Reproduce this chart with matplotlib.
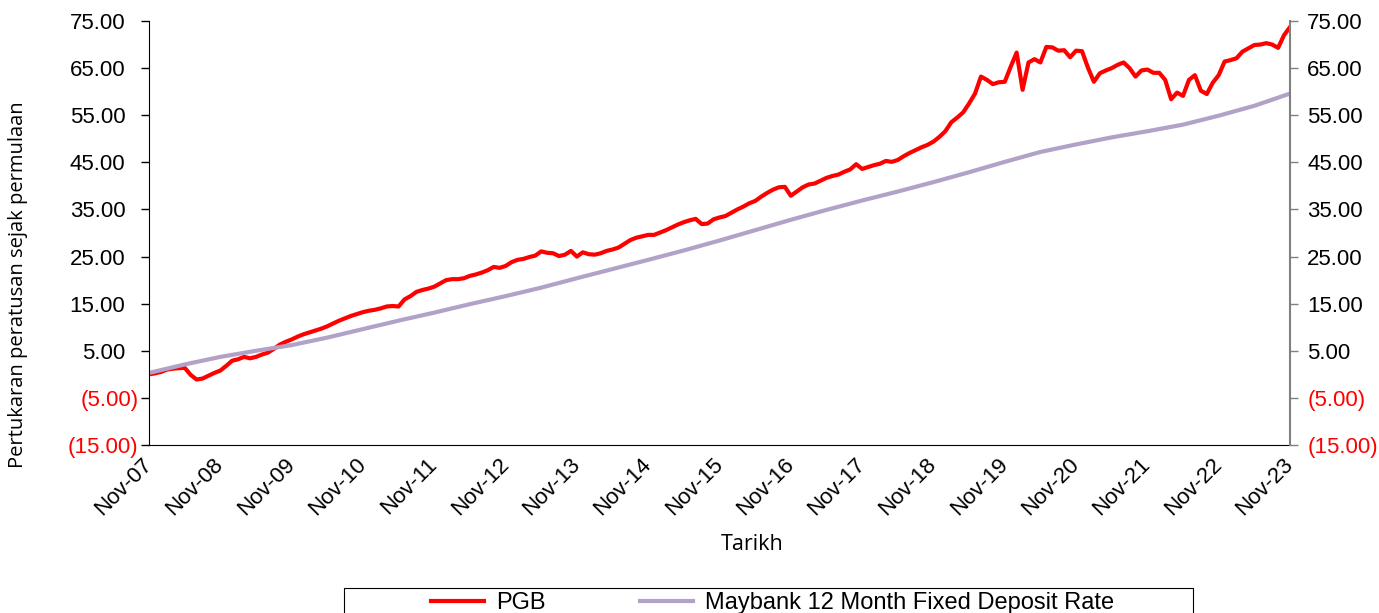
import numpy as np
import matplotlib.pyplot as plt
from matplotlib.patches import Rectangle

# x-axis labels, one per year (monthly data starting Nov-07)
year_labels = ["Nov-07", "Nov-08", "Nov-09", "Nov-10", "Nov-11", "Nov-12", "Nov-13",
               "Nov-14", "Nov-15", "Nov-16", "Nov-17", "Nov-18", "Nov-19", "Nov-20",
               "Nov-21", "Nov-22", "Nov-23"]

# PGB percentage change since launch, monthly
pgb = [0.0, 0.2, 0.5, 1.0, 1.2, 1.3, 1.4, -0.1, -1.1, -0.9, -0.3, 0.3,
       0.8, 1.8, 2.9, 3.2, 3.7, 3.4, 3.7, 4.2, 4.6, 5.4, 6.3, 6.9,
       7.4, 8.0, 8.5, 8.9, 9.3, 9.7, 10.2, 10.8, 11.4, 11.9, 12.4, 12.8,
       13.2, 13.5, 13.7, 14.0, 14.4, 14.5, 14.4, 15.9, 16.6, 17.5, 17.9, 18.2,
       18.6, 19.3, 20.0, 20.2, 20.2, 20.4, 20.9, 21.2, 21.6, 22.1, 22.8, 22.6,
       23.0, 23.8, 24.3, 24.5, 24.9, 25.2, 26.1, 25.8, 25.7, 25.1, 25.4, 26.2,
       25.0, 25.9, 25.5, 25.4, 25.7, 26.2, 26.5, 26.9, 27.7, 28.5, 29.0, 29.3,
       29.6, 29.6, 30.1, 30.6, 31.2, 31.8, 32.3, 32.7, 33.0, 31.9, 32.0, 32.9,
       33.3, 33.6, 34.3, 35.0, 35.6, 36.3, 36.8, 37.7, 38.5, 39.2, 39.7, 39.8,
       37.9, 38.8, 39.7, 40.3, 40.5, 41.1, 41.7, 42.1, 42.4, 43.0, 43.5, 44.6,
       43.6, 44.0, 44.4, 44.7, 45.3, 45.1, 45.5, 46.3, 47.0, 47.6, 48.2, 48.7,
       49.4, 50.4, 51.6, 53.5, 54.5, 55.6, 57.5, 59.6, 63.2, 62.5, 61.6, 62.0,
       62.1, 65.3, 68.3, 60.4, 66.2, 66.9, 66.2, 69.5, 69.4, 68.7, 68.8, 67.3,
       68.7, 68.6, 65.1, 62.1, 63.9, 64.5, 65.0, 65.7, 66.2, 65.0, 63.2, 64.5,
       64.7, 64.0, 64.0, 62.5, 58.4, 59.8, 59.1, 62.5, 63.5, 60.2, 59.5, 61.9,
       63.5, 66.4, 66.7, 67.1, 68.5, 69.2, 69.9, 70.0, 70.3, 70.0, 69.3, 72.0,
       73.7]

# Maybank 12 month FD, cumulative, read every 6 months
fd_month = [0, 6, 12, 18, 24, 30, 36, 42, 48, 54, 60, 66, 72, 78, 84, 90, 96,
            102, 108, 114, 120, 126, 132, 138, 144, 150, 156, 162, 168, 174,
            180, 186, 192]
fd_rate = [0.3, 2.1, 3.7, 5.0, 6.2, 7.8, 9.6, 11.4, 13.1, 14.9, 16.6, 18.4,
           20.4, 22.35, 24.3, 26.3, 28.4, 30.6, 32.8, 34.9, 36.9, 38.8,
           40.8, 42.9, 45.1, 47.2, 48.8, 50.3, 51.6, 53.0, 54.9, 57.0, 59.6]

y_ticks = [-15, -5, 5, 15, 25, 35, 45, 55, 65, 75]

plt.rcParams["font.family"] = ["Liberation Sans", "DejaVu Sans"]

W, H = 1379, 613
fig = plt.figure(figsize=(W / 100, H / 100), dpi=100)
ax = fig.add_axes([149 / W, 1 - 445 / H, (1290 - 149) / W, (445 - 21) / H])

ax.plot(range(len(pgb)), pgb, color="#FF0000", lw=3, solid_joinstyle="round",
        label="PGB")
ax.plot(fd_month, fd_rate, color="#B3A2C7", lw=3,
        label="Maybank 12 Month Fixed Deposit Rate")

ax.set_xlim(0, 192)
ax.set_ylim(-15, 75)


def fmt(v):
    return f"({abs(v):.2f})" if v < 0 else f"{v:.2f}"


ax.set_yticks(y_ticks)
ax.set_yticklabels([fmt(v) for v in y_ticks], fontsize=16)
ax.tick_params(axis="y", length=6, width=1)
# accounting style: closing bracket of negatives hangs past the digits
for tick, v in zip(ax.yaxis.get_major_ticks(), y_ticks):
    tick.set_pad(1.5 if v < 0 else 11)

ax.set_xticks(range(0, 193, 12))
ax.set_xticklabels(year_labels, rotation=45, ha="right", va="center",
                   rotation_mode="anchor", fontsize=16)
ax.tick_params(axis="x", length=0, pad=12)

ax.spines["top"].set_visible(False)
ax.spines["right"].set_visible(False)

ax2 = ax.twinx()
ax2.set_ylim(-15, 75)
ax2.set_yticks(y_ticks)
ax2.set_yticklabels([fmt(v) for v in y_ticks], fontsize=16)
ax2.tick_params(axis="y", length=6, width=1, color="#808080", pad=6.5)
for s in ["top", "left", "bottom"]:
    ax2.spines[s].set_visible(False)
ax2.spines["right"].set_color("#808080")
ax2.spines["right"].set_linewidth(1.5)

for a in (ax, ax2):
    for lbl, v in zip(a.get_yticklabels(), y_ticks):
        lbl.set_color("#FF0000" if v < 0 else "black")

fig.text(18 / W, 1 - 285 / H, "Pertukaran peratusan sejak permulaan",
         rotation=90, ha="center", va="center", fontsize=14.5,
         family="Open Sans")
fig.text(752 / W, 1 - 545 / H, "Tarikh", ha="center", va="center",
         fontsize=15.5, family="Open Sans")

handles, labels = ax.get_legend_handles_labels()
fig.legend(handles, labels, loc="center left",
           bbox_to_anchor=(431 / W, 1 - 603 / H), ncol=2, frameon=False,
           fontsize=17, handlelength=2.25, handletextpad=0.5,
           columnspacing=4.0, borderpad=0, borderaxespad=0)
fig.add_artist(Rectangle((344 / W, -0.05), (1193 - 344) / W,
                         0.05 + 1 - 588 / H, transform=fig.transFigure,
                         fill=False, ec="black", lw=0.8))

fig.savefig("out.png", dpi=100)
